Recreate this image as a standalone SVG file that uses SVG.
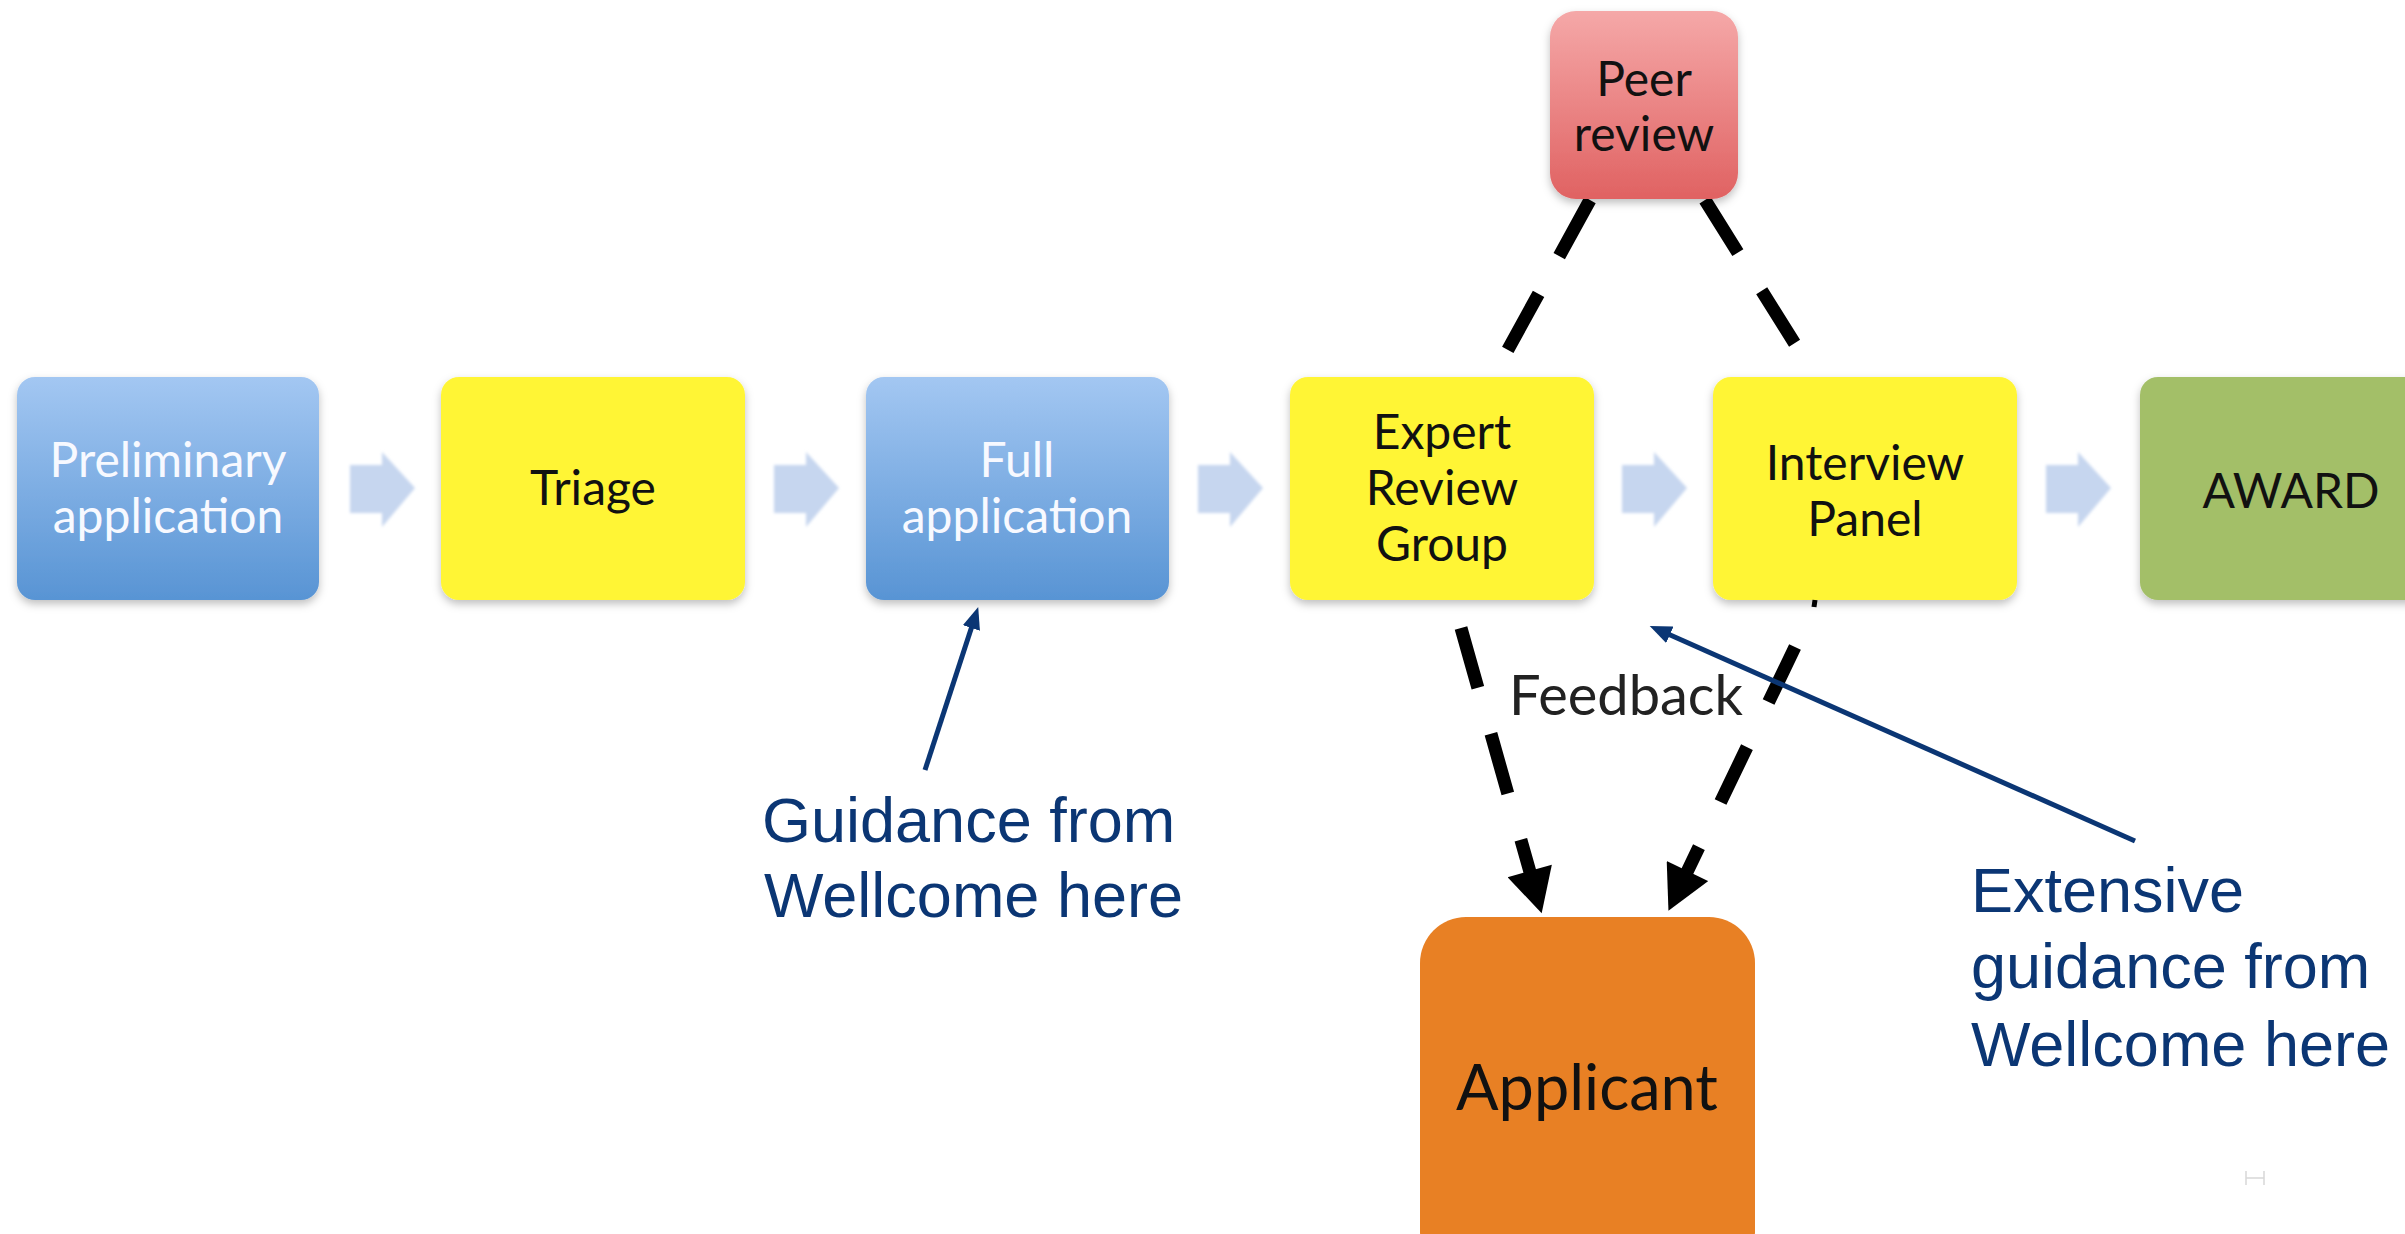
<svg xmlns="http://www.w3.org/2000/svg" width="2405" height="1234" viewBox="0 0 2405 1234">
<defs>
<linearGradient id="gBlue" x1="0" y1="0" x2="0" y2="1">
<stop offset="0" stop-color="#A3C7F2"/><stop offset="1" stop-color="#5894D4"/>
</linearGradient>
<linearGradient id="gRed" x1="0" y1="0" x2="0" y2="1">
<stop offset="0" stop-color="#F5A8A8"/><stop offset="1" stop-color="#E06262"/>
</linearGradient>
<filter id="sh" x="-10%" y="-10%" width="120%" height="125%">
<feDropShadow dx="0" dy="4" stdDeviation="4" flood-color="#000" flood-opacity="0.25"/>
</filter>
<filter id="blur" x="-10%" y="-10%" width="120%" height="120%">
<feGaussianBlur stdDeviation="1.5"/>
</filter>
<marker id="blk" markerUnits="userSpaceOnUse" markerWidth="46" markerHeight="46" viewBox="0 0 42 44" refX="1" refY="22" orient="auto">
<path d="M0,0 L42,22 L0,44 z" fill="#000"/>
</marker>
<marker id="nav" markerUnits="userSpaceOnUse" markerWidth="22" markerHeight="18" viewBox="0 0 22 18" refX="2" refY="9" orient="auto">
<path d="M0,0 L22,9 L0,18 z" fill="#0B3674"/>
</marker>
<path id="chev" d="M0,13 H32 V0 L65,36 L32,75 V61 H0 z"/>
</defs>
<style>
.box{filter:url(#sh)}
.t{font-family:Lato,"Open Sans","DejaVu Sans",sans-serif;font-size:48px;text-anchor:middle;fill:#111}
.tw{fill:#F7F9FF}
.ann{font-family:"Liberation Sans",Arial,sans-serif;font-size:63px;fill:#0B3674}
.dash{stroke:#000;stroke-width:13;fill:none;stroke-linecap:butt}
.nl{stroke:#0B3674;stroke-width:5;fill:none}
.chev{fill:#C6D6EF;filter:url(#blur)}
</style>
<rect width="2405" height="1234" fill="#fff"/>

<g id="chevrons">
<use href="#chev" class="chev" x="350" y="452"/>
<use href="#chev" class="chev" x="774" y="452"/>
<use href="#chev" class="chev" x="1198" y="452"/>
<use href="#chev" class="chev" x="1622" y="452"/>
<use href="#chev" class="chev" x="2046" y="452"/>
</g>

<g id="connectors">
<line class="dash" x1="1590" y1="200" x2="1505" y2="355" stroke-dasharray="64 43"/>
<line class="dash" x1="1705" y1="200" x2="1800" y2="352" stroke-dasharray="62 45"/>
<line class="dash" x1="1461" y1="628" x2="1530" y2="872" stroke-dasharray="62 48" marker-end="url(#blk)"/>
<line class="dash" x1="1795" y1="647" x2="1687" y2="872" stroke-dasharray="61 50" marker-end="url(#blk)"/>
<line class="nl" x1="925" y1="770" x2="972" y2="626" marker-end="url(#nav)"/>
<line class="nl" x1="2135" y1="841" x2="1668" y2="634" marker-end="url(#nav)"/>
</g>

<g id="preliminary">
<rect class="box" x="17" y="377" width="302" height="223" rx="18" fill="url(#gBlue)"/>
<text class="t tw" x="168" y="477">Preliminary</text>
<text class="t tw" x="168" y="533">application</text>
</g>
<g id="triage">
<rect class="box" x="441" y="377" width="304" height="223" rx="18" fill="#FFF535"/>
<text class="t" x="593" y="505">Triage</text>
</g>
<g id="full">
<rect class="box" x="866" y="377" width="303" height="223" rx="18" fill="url(#gBlue)"/>
<text class="t tw" x="1017" y="477">Full</text>
<text class="t tw" x="1017" y="533">application</text>
</g>
<g id="expert">
<rect class="box" x="1290" y="377" width="304" height="223" rx="18" fill="#FFF535"/>
<text class="t" x="1442" y="449">Expert</text>
<text class="t" x="1442" y="505">Review</text>
<text class="t" x="1442" y="561">Group</text>
</g>
<g id="interview">
<rect class="box" x="1713" y="377" width="304" height="223" rx="18" fill="#FFF535"/>
<text class="t" x="1865" y="480">Interview</text>
<text class="t" x="1865" y="536">Panel</text>
</g>
<g id="award">
<rect class="box" x="2140" y="377" width="304" height="223" rx="18" fill="#A3BF68"/>
<text class="t" x="2291" y="508">AWARD</text>
</g>
<g id="peer">
<rect class="box" x="1550" y="11" width="188" height="188" rx="26" fill="url(#gRed)"/>
<text class="t" x="1644" y="96">Peer</text>
<text class="t" x="1644" y="151">review</text>
</g>
<g id="applicant">
<rect x="1420" y="917" width="335" height="360" rx="46" fill="#E88024"/>
<text class="t" x="1587" y="1110" style="font-size:63px">Applicant</text>
</g>

<g id="feedback">
<text class="t" x="1626" y="715" style="font-size:56px;fill:#222">Feedback</text>
</g>

<g id="note1">
<text class="ann" x="762" y="842">Guidance from</text>
<text class="ann" x="764" y="917">Wellcome here</text>
</g>
<g id="note2">
<text class="ann" x="1971" y="912">Extensive</text>
<text class="ann" x="1971" y="988">guidance from</text>
<text class="ann" x="1971" y="1066">Wellcome here</text>
</g>
<path d="M1815,600 l-1,7" stroke="#000" stroke-width="5"/>
<path d="M2246,1171 v14 M2264,1171 v14 M2246,1178 h18" stroke="#d8d8d8" stroke-width="1.5" fill="none"/>
</svg>
